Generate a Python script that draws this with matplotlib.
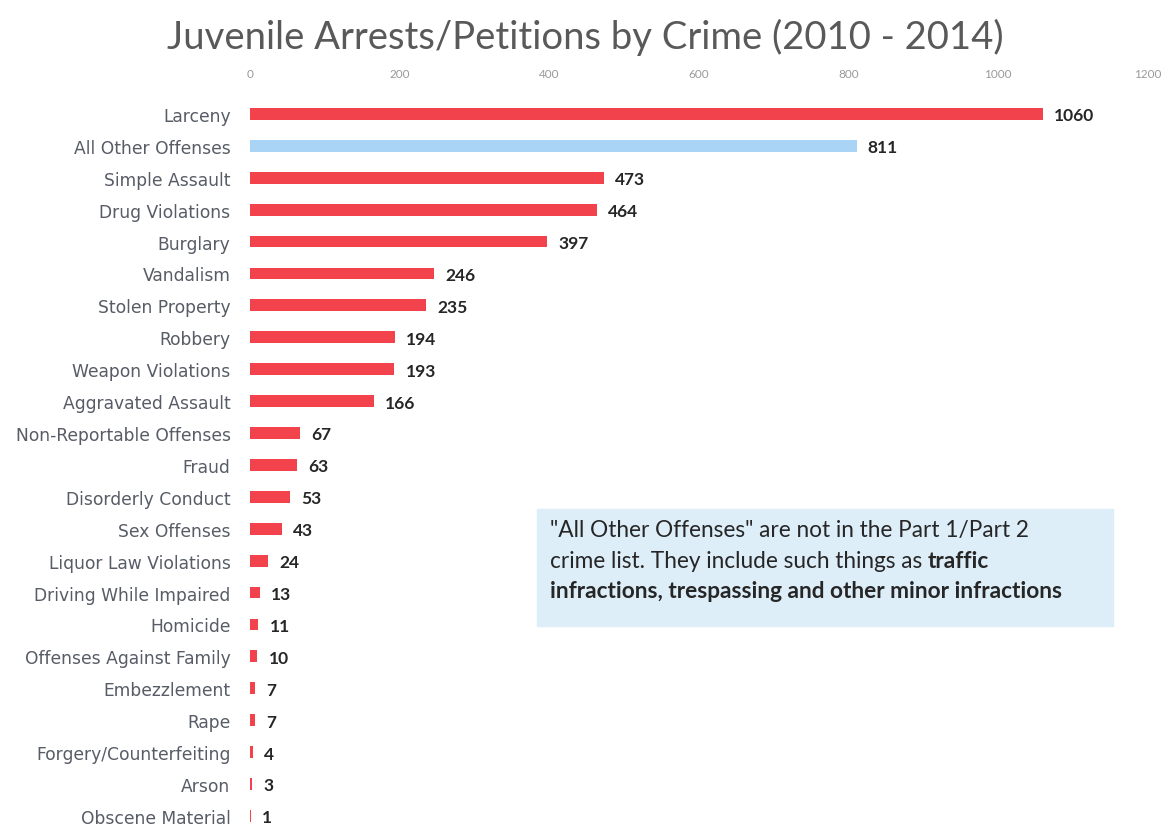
import matplotlib.pyplot as plt
from matplotlib.patches import Rectangle

crimes = ['Larceny', 'All Other Offenses', 'Simple Assault', 'Drug Violations',
          'Burglary', 'Vandalism', 'Stolen Property', 'Robbery',
          'Weapon Violations', 'Aggravated Assault', 'Non-Reportable Offenses',
          'Fraud', 'Disorderly Conduct', 'Sex Offenses', 'Liquor Law Violations',
          'Driving While Impaired', 'Homicide', 'Offenses Against Family',
          'Embezzlement', 'Rape', 'Forgery/Counterfeiting', 'Arson',
          'Obscene Material']
counts = [1060, 811, 473, 464, 397, 246, 235, 194, 193, 166, 67, 63, 53, 43,
          24, 13, 11, 10, 7, 7, 4, 3, 1]
x_ticks = [0, 200, 400, 600, 800, 1000, 1200]

RED = '#f2434d'
BLUE = '#a9d4f5'

plt.rcParams['font.family'] = ['Lato', 'DejaVu Sans']

fig = plt.figure(figsize=(11.7, 8.28), dpi=100)
ax = fig.add_axes([250 / 1170, 0, 908 / 1170, 729 / 828])

colors = [BLUE if c == 'All Other Offenses' else RED for c in crimes]
ypos = list(range(len(crimes)))
ax.barh(ypos, counts, height=0.37, color=colors)

for y, v in zip(ypos, counts):
    ax.text(v + 15, y, str(v), va='center_baseline', ha='left', fontsize=12.5,
            fontweight='bold', color='#262626')

ax.set_xlim(0, 1214)
ax.set_ylim(22.35, -0.5)
ax.set_yticks(ypos)
ax.set_yticklabels(crimes, fontsize=12.3, color='#575c66',
                   family=['DejaVu Sans'])
ax.set_xticks(x_ticks)
ax.xaxis.tick_top()
ax.tick_params(axis='x', labelsize=8.5, colors='#9a9a9a', length=0, pad=14)
ax.tick_params(axis='y', length=0, pad=14)
for s in ax.spines.values():
    s.set_visible(False)

fig.text(0.5, 1 - 37 / 828, 'Juvenile Arrests/Petitions by Crime (2010 - 2014)',
         ha='center', va='center', fontsize=27.5, color='#595959')

# note box about "All Other Offenses"
fig.patches.append(Rectangle((537 / 1170, 1 - 627 / 828), 576 / 1170, 117 / 828,
                             transform=fig.transFigure, color='#ddeef9',
                             zorder=0))
tx = 550 / 1170
fs = 16.3
fig.text(tx, 1 - 531 / 828,
         '"All Other Offenses" are not in the Part 1/Part 2',
         fontsize=fs, color='#262626', va='center')
t2 = fig.text(tx, 1 - 562 / 828, 'crime list. They include such things as ',
              fontsize=fs, color='#262626', va='center')
fig.text(tx, 1 - 562 / 828, 'traffic', fontsize=fs, fontweight='bold',
         color='#262626', va='center')
fig.text(tx, 1 - 592 / 828,
         'infractions, trespassing and other minor infractions',
         fontsize=fs, fontweight='bold', color='#262626', va='center')

# shift the bold word to the end of the normal text on line 2
fig.canvas.draw()
r = fig.canvas.get_renderer()
bb = t2.get_window_extent(r)
fig.texts[-2].set_x(bb.x1 / fig.bbox.width)

fig.savefig('out.png', dpi=100)
